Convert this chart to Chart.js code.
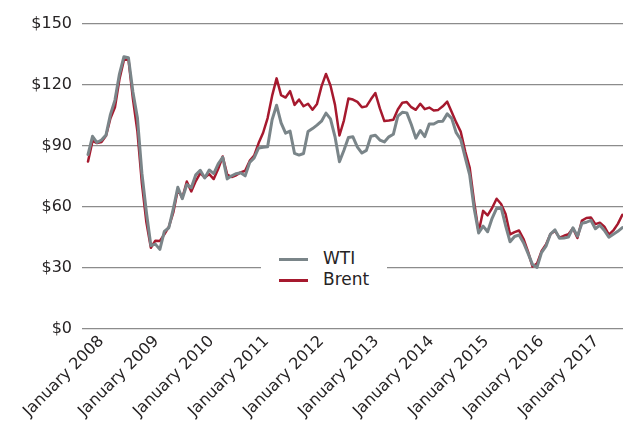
<!DOCTYPE html>
<html>
<head>
<meta charset="utf-8">
<script src="https://cdn.jsdelivr.net/npm/chart.js@4.4.1/dist/chart.umd.min.js"></script>
<style>
  body { margin: 0; background: #fff; }
  #wrap { position: relative; width: 623px; height: 430px; }
  #legend {
    position: absolute; left: 261px; top: 243px; width: 126px; height: 50px;
    background: #fff; font: 17px 'DejaVu Sans', sans-serif; color: #262324;
  }
  .item { position: absolute; left: 18px; height: 20px; line-height: 20px; }
  .swatch { display: inline-block; width: 29px; height: 3px; vertical-align: middle; margin-right: 15px; }
</style>
</head>
<body>
<div id="wrap">
  <canvas id="chart"></canvas>
  <div id="legend">
    <div class="item" style="top:5px"><span class="swatch" style="background:#7a8589"></span>WTI</div>
    <div class="item" style="top:26px"><span class="swatch" style="background:#a6192e"></span>Brent</div>
  </div>
</div>
<script>
// monthly averages, Oct 2007 .. Sep 2017 ($/barrel)
const wti = [
  85.80, 94.77, 91.69,
  92.95, 95.35, 105.56, 112.57, 125.39, 133.93, 133.44, 116.61, 103.90, 76.65, 57.44, 41.02,
  41.74, 39.16, 47.98, 49.79, 59.16, 69.68, 64.09, 71.06, 69.46, 75.82, 78.08, 74.30,
  78.22, 76.42, 81.24, 84.48, 73.84, 75.35, 76.37, 76.82, 75.31, 81.90, 84.14, 89.04,
  89.42, 89.58, 102.94, 110.04, 101.33, 96.29, 97.30, 86.33, 85.52, 86.32, 97.16, 98.56,
  100.27, 102.20, 106.16, 103.32, 94.66, 82.30, 87.90, 94.13, 94.51, 89.49, 86.53, 87.86,
  94.76, 95.31, 92.94, 92.02, 94.51, 95.77, 104.67, 106.57, 106.29, 100.54, 93.86, 97.63,
  94.62, 100.82, 100.80, 102.07, 102.18, 105.79, 103.59, 96.54, 93.21, 84.40, 75.79, 59.29,
  47.22, 50.58, 47.82, 54.45, 59.27, 59.82, 50.90, 42.87, 45.48, 46.22, 42.44, 37.19,
  31.68, 30.32, 37.55, 40.75, 46.71, 48.76, 44.65, 44.72, 45.18, 49.78, 45.66, 51.97,
  52.50, 53.47, 49.33, 51.06, 48.48, 45.18, 46.63, 48.04, 49.82
];
const brent = [
  82.34, 92.50, 91.45,
  92.00, 94.99, 103.64, 109.07, 122.80, 132.32, 132.72, 113.24, 97.23, 71.58, 52.45, 39.95,
  43.44, 43.32, 46.54, 50.18, 57.30, 68.61, 64.44, 72.51, 67.65, 72.77, 76.66, 74.46,
  76.17, 73.75, 78.83, 84.82, 75.95, 74.76, 75.58, 77.04, 77.84, 82.67, 85.28, 91.45,
  96.52, 103.72, 114.64, 123.26, 114.99, 113.83, 116.97, 110.22, 112.83, 109.55, 110.77, 107.87,
  110.69, 119.33, 125.45, 119.75, 110.34, 95.16, 102.62, 113.36, 112.86, 111.71, 109.06, 109.49,
  112.96, 116.05, 108.47, 102.25, 102.56, 102.92, 107.93, 111.28, 111.60, 109.08, 107.79, 110.76,
  108.12, 108.90, 107.48, 107.76, 109.54, 111.80, 106.77, 101.61, 97.09, 87.43, 79.44, 62.34,
  47.76, 58.10, 55.89, 59.52, 64.08, 61.48, 56.56, 46.52, 47.62, 48.43, 44.27, 38.01,
  30.70, 32.18, 38.21, 41.58, 46.74, 48.25, 44.95, 45.84, 46.57, 49.52, 44.73, 53.31,
  54.58, 54.87, 51.59, 52.31, 50.33, 46.37, 48.48, 51.70, 56.15
];
const yearLabels = [
  'January 2008', 'January 2009', 'January 2010', 'January 2011', 'January 2012',
  'January 2013', 'January 2014', 'January 2015', 'January 2016', 'January 2017'
];
const yTicks = [0, 30, 60, 90, 120, 150];

const FONT = { family: "'DejaVu Sans', sans-serif", size: 16 };
const TEXT = '#262324';

// month index for each value (0 = Oct 2007)
const toPoints = arr => arr.map((v, i) => ({ x: i, y: v }));

new Chart(document.getElementById('chart'), {
  type: 'line',
  data: {
    datasets: [
      { label: 'WTI', data: toPoints(wti), borderColor: '#7a8589', borderWidth: 3 },
      { label: 'Brent', data: toPoints(brent), borderColor: '#a6192e', borderWidth: 2.5 },
    ],
  },
  options: {
    responsive: true,
    maintainAspectRatio: false,
    animation: false,
    layout: { padding: { top: 24, left: 0, right: 0, bottom: 0 } },
    elements: {
      point: { radius: 0 },
      line: { tension: 0, borderJoinStyle: 'round', borderCapStyle: 'round' },
    },
    plugins: { legend: { display: false }, tooltip: { enabled: false } },
    scales: {
      x: {
        type: 'linear',
        min: -1.34,
        max: 119.15,
        grid: { display: false, drawTicks: false },
        border: { display: false },
        afterBuildTicks: scale => {
          // yearly labels, slightly wider spaced than the monthly grid
          scale.ticks = yearLabels.map((_, k) => ({ value: 3 + k * 12.25 }));
        },
        afterFit: scale => { scale.height = 101; },
        ticks: {
          autoSkip: false,
          maxRotation: 45,
          minRotation: 45,
          padding: 3,
          font: FONT,
          color: TEXT,
          callback: (v, i) => yearLabels[i],
        },
      },
      y: {
        min: 0,
        max: 150,
        afterBuildTicks: scale => { scale.ticks = yTicks.map(v => ({ value: v })); },
        afterFit: scale => { scale.width = 82; },
        grid: { color: '#8c8c8c', lineWidth: 1.3, drawTicks: false },
        border: { display: false },
        ticks: {
          padding: 10,
          font: FONT,
          color: TEXT,
          callback: v => '$' + v,
        },
      },
    },
  },
});
</script>
</body>
</html>
